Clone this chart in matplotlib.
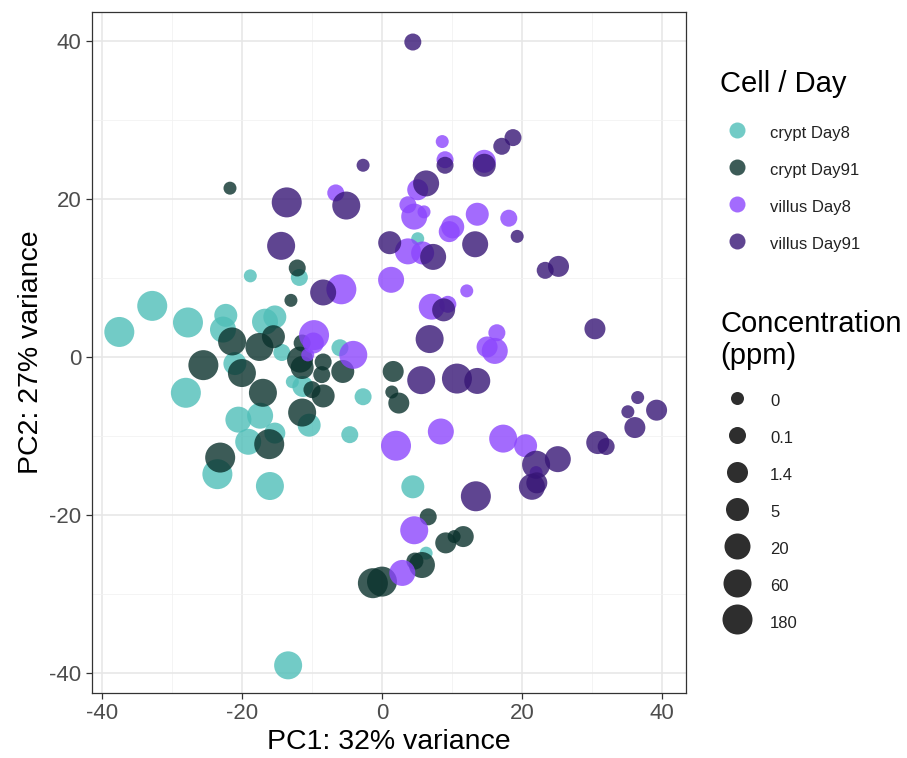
import matplotlib
matplotlib.use("Agg")
import matplotlib.pyplot as plt
from matplotlib.lines import Line2D
from matplotlib.ticker import MultipleLocator

plt.rcParams['font.family'] = ['Liberation Sans', 'DejaVu Sans']
plt.rcParams['axes.unicode_minus'] = False

# PCA scores: (PC1, PC2, concentration in ppm)
crypt_d8_x = [-37.5, -32.8, -27.7, -22.3, -22.7, -16.7, -15.3, -14.3, -6.0, -21.0,
              -12.8, -11.3, -28.0, -2.7, -10.4, -20.5, -17.4, -4.6, -19.1, -15.3,
              -23.5, -16.0, -13.4, -18.8, -11.8, 5.1, 4.4, 6.3]
crypt_d8_y = [3.2, 6.5, 4.4, 5.3, 3.5, 4.5, 5.1, 0.6, 1.2, -0.8,
              -3.1, -3.7, -4.5, -5.0, -8.6, -7.9, -7.4, -9.8, -10.7, -9.6,
              -14.8, -16.3, -39.0, 10.3, 10.1, 15.0, -16.4, -24.8]
crypt_d8_c = [180, 180, 180, 5, 20, 20, 5, 0.1, 0.1, 5,
              0, 1.4, 180, 0.1, 5, 20, 20, 0.1, 20, 1.4,
              180, 60, 60, 0, 0.1, 0, 5, 0]

crypt_d91_x = [-21.7, -12.1, -13.0, -21.4, -17.5, -15.5, -11.4, -25.5, -20.0, -11.7,
               -11.4, -8.4, -8.6, -5.6, -10.0, -8.4, -17.0, -11.4, -16.1, -23.1,
               1.6, 1.4, 2.4, 6.6, 9.1, 10.3, 11.6, 5.7, 4.7, -1.3, 0.0]
crypt_d91_y = [21.4, 11.3, 7.2, 2.0, 1.3, 2.6, 1.8, -1.0, -2.0, -0.3,
               -1.3, -0.6, -2.2, -1.8, -4.1, -4.9, -4.5, -7.0, -11.0, -12.7,
               -1.8, -4.4, -5.8, -20.2, -23.5, -22.7, -22.7, -26.3, -25.8, -28.6, -28.4]
crypt_d91_c = [0, 0.1, 0, 60, 60, 5, 0.1, 180, 60, 20,
               5, 0.1, 0.1, 5, 0.1, 5, 60, 60, 180, 180,
               1.4, 0, 1.4, 0.1, 1.4, 0, 1.4, 20, 0.1, 180, 180]

villus_d8_x = [-6.6, -5.8, -9.7, -9.8, -10.6, -4.1, 8.6, 9.0, 14.6, 5.1,
               3.7, 4.6, 6.0, 13.6, 18.1, 10.1, 9.6, 3.7, 5.8, 1.3,
               12.1, 7.1, 9.4, 16.4, 16.1, 15.0, 8.4, 2.0, 17.3, 20.5,
               22.0, 4.6, 2.9]
villus_d8_y = [20.8, 8.6, 2.8, 1.8, 0.3, 0.3, 27.3, 25.0, 24.8, 21.2,
               19.3, 17.8, 18.4, 18.1, 17.6, 16.5, 15.9, 13.4, 13.2, 9.8,
               8.4, 6.4, 6.7, 3.1, 0.8, 1.3, -9.4, -11.2, -10.3, -11.2,
               -14.6, -21.9, -27.3]
villus_d8_c = [0.1, 180, 180, 1.4, 0, 60, 0, 0.1, 5, 1.4,
               0.1, 20, 0, 5, 0.1, 5, 1.4, 20, 5, 20,
               0, 20, 0.1, 0.1, 20, 1.4, 20, 180, 60, 5,
               0, 60, 20]

villus_d91_x = [4.4, -2.7, -13.6, -5.1, -14.4, -8.4, 18.7, 17.1, 9.0, 14.6,
                6.3, 19.3, 1.1, 13.3, 7.3, 23.3, 25.2, 8.8, 30.4, 6.8,
                5.6, 10.7, 13.6, 36.5, 35.1, 39.2, 36.1, 30.8, 32.0, 22.0,
                25.1, 21.4, 22.1, 13.4]
villus_d91_y = [39.9, 24.3, 19.6, 19.2, 14.1, 8.2, 27.8, 26.7, 24.3, 24.3,
                22.0, 15.3, 14.5, 14.3, 12.7, 11.0, 11.5, 6.0, 3.6, 2.3,
                -2.9, -2.7, -3.0, -5.1, -6.9, -6.7, -8.9, -10.8, -11.3, -13.6,
                -12.9, -16.4, -15.9, -17.6]
villus_d91_c = [0.1, 0, 180, 60, 60, 20, 0.1, 0.1, 0.1, 5,
                20, 0, 5, 20, 20, 0.1, 1.4, 5, 1.4, 60,
                60, 180, 20, 0, 0, 1.4, 1.4, 5, 0.1, 60,
                20, 20, 1.4, 180]

groups = ['crypt Day8', 'crypt Day91', 'villus Day8', 'villus Day91']
colors = ['#4fbeb8', '#0b322d', '#8c46fd', '#371676']
conc_levels = [0, 0.1, 1.4, 5, 20, 60, 180]
conc_labels = ['0', '0.1', '1.4', '5', '20', '60', '180']
diam_px = [13, 17, 21, 23, 26, 28, 30]  # marker diameter for each level

def area(c):
    d = diam_px[conc_levels.index(c)] * 0.72
    return d * d

fig = plt.figure(figsize=(9.07, 7.58), dpi=100)
ax = fig.add_axes([92 / 907, 1 - 693 / 758, (686 - 92) / 907, (693 - 12) / 758])

series = [(crypt_d8_x, crypt_d8_y, crypt_d8_c),
          (crypt_d91_x, crypt_d91_y, crypt_d91_c),
          (villus_d8_x, villus_d8_y, villus_d8_c),
          (villus_d91_x, villus_d91_y, villus_d91_c)]
for (xs, ys, cs), col in zip(series, colors):
    ax.scatter(xs, ys, s=[area(c) for c in cs], color=col, alpha=0.8,
               linewidths=0, zorder=3)

ax.set_xlim(-41.4, 43.4)
ax.set_ylim(-42.5, 43.7)
ax.xaxis.set_major_locator(MultipleLocator(20))
ax.yaxis.set_major_locator(MultipleLocator(20))
ax.xaxis.set_minor_locator(MultipleLocator(10))
ax.yaxis.set_minor_locator(MultipleLocator(10))
ax.grid(True, which='major', color='#e6e6e6', linewidth=1.1, zorder=0)
ax.grid(True, which='minor', color='#f2f2f2', linewidth=0.6, zorder=0)
ax.set_axisbelow(True)
for sp in ax.spines.values():
    sp.set_color('#333333')
    sp.set_linewidth(0.9)
ax.tick_params(which='major', length=4, width=0.9, color='#333333',
               labelsize=16, labelcolor='#4d4d4d')
ax.tick_params(which='minor', length=0)

ax.set_xlabel('PC1: 32% variance', fontsize=20.5, labelpad=3)
ax.set_ylabel('PC2: 27% variance', fontsize=20.5, labelpad=4)

fs = 12
legend_kw = dict(loc='upper left', frameon=False, fontsize=fs, title_fontsize=21,
                 borderpad=0, borderaxespad=0, handlelength=2.0,
                 handletextpad=1.0, handleheight=1.6, labelspacing=0.93,
                 alignment='left')

color_handles = [Line2D([], [], linestyle='none', marker='o', markersize=16 * 0.72,
                        markeredgewidth=0, color=c, alpha=0.8) for c in colors]
leg1 = fig.legend(color_handles, groups, title='Cell / Day',
                  bbox_to_anchor=(720 / 907, 1 - 70 / 758), **legend_kw)
leg1._legend_box.sep = 17.5

size_handles = [Line2D([], [], linestyle='none', marker='o', markersize=d * 0.72,
                       markeredgewidth=0, color='#222222', alpha=0.95) for d in diam_px]
leg2 = fig.legend(size_handles, conc_labels, title='Concentration\n(ppm)',
                  bbox_to_anchor=(720 / 907, 1 - 310 / 758), **legend_kw)
leg2._legend_box.sep = 14
for t in leg1.get_texts() + leg2.get_texts():
    t.set_color('#222222')

fig.savefig('out.png', dpi=100)
